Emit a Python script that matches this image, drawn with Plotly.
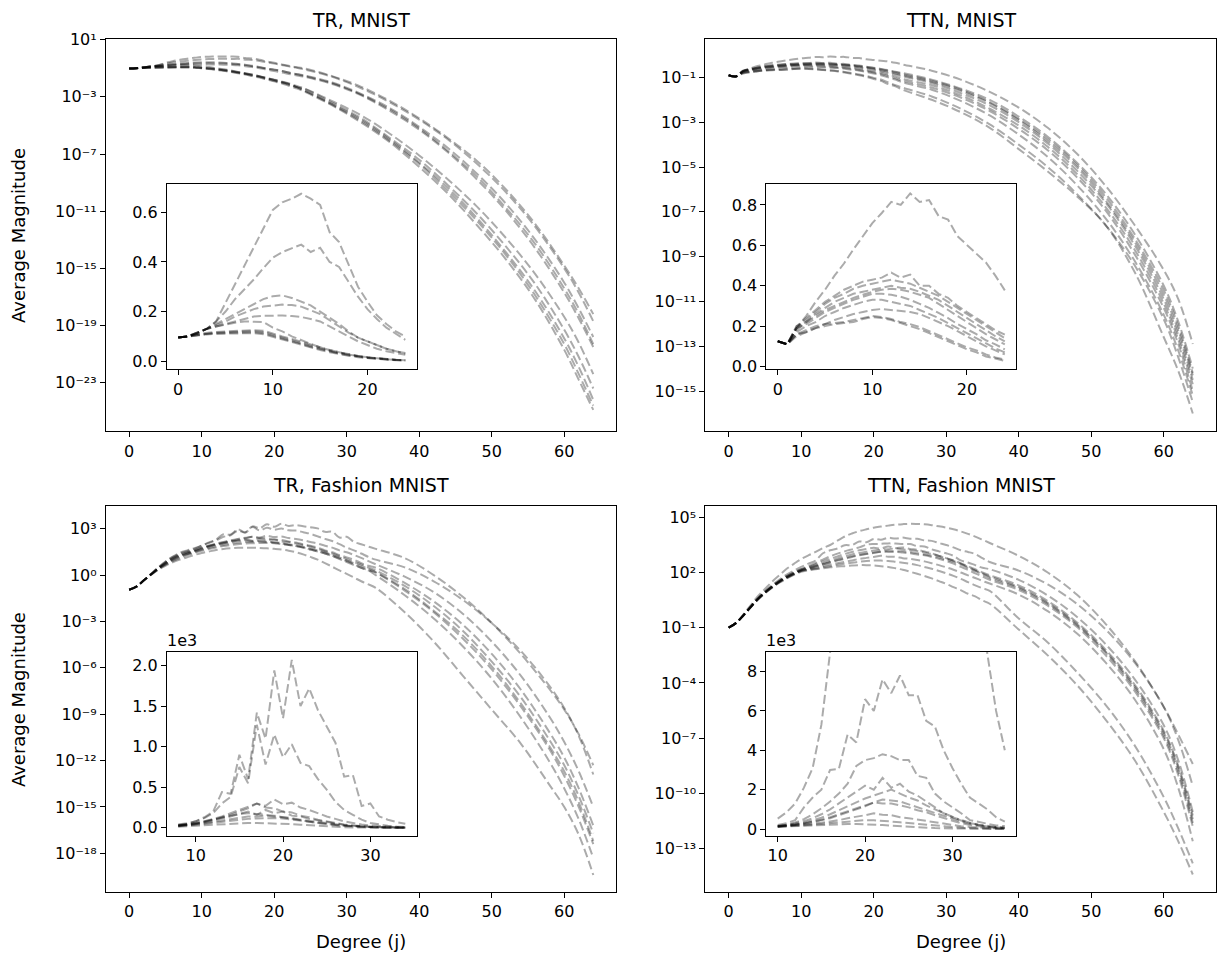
import plotly.graph_objects as go

W, H = 1225, 970          # browser window
OFF = 8                   # default page margin around the figure
FW, FH = W - 2 * OFF, H - 2 * OFF

# ---------------- data ----------------
# MNIST panels: inset holds j = 0..24 (linear values); the main curves continue with log10 tails
MNIST_INSET_J = list(range(0, 25))
MNIST_TAIL_J = [28, 32, 36, 40, 44, 48, 52, 56, 60, 62, 64]

TR_MNIST_INSET = [
    [0.095, 0.100, 0.110, 0.130, 0.160, 0.235, 0.310, 0.385, 0.460, 0.535, 0.610, 0.640, 0.655, 0.675, 0.655, 0.630, 0.520, 0.480, 0.390, 0.300, 0.240, 0.185, 0.150, 0.120, 0.100],
    [0.095, 0.100, 0.110, 0.130, 0.160, 0.200, 0.250, 0.290, 0.330, 0.375, 0.417, 0.440, 0.455, 0.470, 0.440, 0.457, 0.400, 0.380, 0.320, 0.260, 0.210, 0.170, 0.135, 0.110, 0.086],
    [0.095, 0.100, 0.115, 0.130, 0.150, 0.170, 0.190, 0.210, 0.230, 0.250, 0.262, 0.265, 0.255, 0.240, 0.225, 0.200, 0.175, 0.150, 0.120, 0.095, 0.080, 0.066, 0.050, 0.040, 0.033],
    [0.095, 0.100, 0.115, 0.130, 0.145, 0.160, 0.180, 0.195, 0.210, 0.220, 0.225, 0.228, 0.226, 0.220, 0.205, 0.190, 0.165, 0.140, 0.115, 0.095, 0.080, 0.065, 0.050, 0.040, 0.030],
    [0.095, 0.100, 0.115, 0.130, 0.140, 0.150, 0.160, 0.170, 0.180, 0.183, 0.185, 0.184, 0.182, 0.178, 0.170, 0.160, 0.140, 0.120, 0.100, 0.080, 0.065, 0.050, 0.040, 0.032, 0.026],
    [0.095, 0.100, 0.115, 0.130, 0.140, 0.148, 0.155, 0.160, 0.160, 0.158, 0.135, 0.120, 0.100, 0.085, 0.070, 0.055, 0.045, 0.035, 0.027, 0.020, 0.015, 0.011, 0.008, 0.005, 0.004],
    [0.095, 0.100, 0.110, 0.115, 0.118, 0.120, 0.122, 0.124, 0.125, 0.123, 0.110, 0.100, 0.090, 0.078, 0.066, 0.055, 0.045, 0.036, 0.028, 0.021, 0.016, 0.012, 0.009, 0.006, 0.004],
    [0.095, 0.100, 0.108, 0.113, 0.115, 0.117, 0.119, 0.120, 0.121, 0.118, 0.106, 0.096, 0.085, 0.073, 0.062, 0.051, 0.041, 0.033, 0.026, 0.020, 0.015, 0.011, 0.008, 0.005, 0.003],
    [0.095, 0.100, 0.107, 0.110, 0.112, 0.114, 0.115, 0.116, 0.117, 0.113, 0.102, 0.092, 0.081, 0.070, 0.058, 0.048, 0.039, 0.031, 0.024, 0.018, 0.013, 0.010, 0.007, 0.005, 0.003],
    [0.095, 0.100, 0.105, 0.108, 0.110, 0.111, 0.112, 0.113, 0.113, 0.109, 0.098, 0.088, 0.077, 0.066, 0.055, 0.045, 0.036, 0.028, 0.022, 0.016, 0.012, 0.009, 0.006, 0.004, 0.0025],
]
TR_MNIST_TAIL_LOG = [
    [-1.55, -2.3, -3.3, -4.5, -5.9, -7.5, -9.5, -11.9, -14.8, -16.4, -18.2],
    [-1.6, -2.4, -3.4, -4.6, -6.0, -7.7, -9.7, -12.1, -15.0, -16.7, -18.7],
    [-2.0, -2.8, -3.8, -5.1, -6.6, -8.4, -10.5, -13.0, -16.0, -17.8, -19.8],
    [-2.05, -2.85, -3.9, -5.2, -6.8, -8.6, -10.8, -13.3, -16.4, -18.2, -20.3],
    [-2.1, -2.9, -4.0, -5.3, -6.9, -8.8, -11.0, -13.6, -16.7, -18.5, -20.5],
    [-3.3, -4.3, -5.6, -7.1, -8.8, -10.7, -12.9, -15.4, -18.4, -20.2, -22.4],
    [-3.4, -4.5, -5.9, -7.4, -9.2, -11.2, -13.5, -16.1, -19.3, -21.2, -23.4],
    [-3.5, -4.6, -6.0, -7.6, -9.4, -11.5, -13.9, -16.6, -19.9, -21.9, -24.2],
    [-3.55, -4.7, -6.1, -7.7, -9.6, -11.7, -14.1, -16.9, -20.3, -22.4, -24.6],
    [-3.6, -4.8, -6.2, -7.9, -9.8, -12.0, -14.4, -17.2, -20.7, -22.8, -24.9],
]

TTN_MNIST_INSET = [
    [0.125, 0.110, 0.190, 0.250, 0.320, 0.380, 0.450, 0.510, 0.580, 0.645, 0.710, 0.760, 0.815, 0.800, 0.857, 0.815, 0.824, 0.745, 0.727, 0.645, 0.600, 0.555, 0.515, 0.450, 0.377],
    [0.125, 0.110, 0.200, 0.240, 0.280, 0.320, 0.350, 0.380, 0.400, 0.420, 0.430, 0.440, 0.465, 0.440, 0.455, 0.400, 0.400, 0.360, 0.340, 0.300, 0.270, 0.240, 0.210, 0.180, 0.158],
    [0.125, 0.110, 0.190, 0.230, 0.270, 0.310, 0.340, 0.360, 0.385, 0.400, 0.410, 0.420, 0.430, 0.420, 0.410, 0.390, 0.370, 0.350, 0.320, 0.290, 0.260, 0.230, 0.200, 0.170, 0.140],
    [0.125, 0.110, 0.200, 0.220, 0.260, 0.290, 0.320, 0.340, 0.360, 0.370, 0.380, 0.390, 0.400, 0.390, 0.385, 0.370, 0.350, 0.330, 0.300, 0.270, 0.240, 0.210, 0.180, 0.150, 0.125],
    [0.125, 0.110, 0.180, 0.220, 0.250, 0.280, 0.300, 0.320, 0.340, 0.355, 0.370, 0.380, 0.385, 0.380, 0.370, 0.355, 0.340, 0.310, 0.280, 0.250, 0.220, 0.190, 0.160, 0.135, 0.110],
    [0.125, 0.110, 0.190, 0.210, 0.240, 0.270, 0.290, 0.310, 0.330, 0.345, 0.360, 0.360, 0.355, 0.345, 0.330, 0.310, 0.290, 0.265, 0.240, 0.210, 0.185, 0.160, 0.130, 0.110, 0.085],
    [0.125, 0.110, 0.170, 0.200, 0.220, 0.250, 0.270, 0.290, 0.305, 0.320, 0.330, 0.330, 0.320, 0.310, 0.300, 0.280, 0.260, 0.240, 0.215, 0.190, 0.165, 0.140, 0.115, 0.090, 0.070],
    [0.125, 0.110, 0.160, 0.170, 0.190, 0.210, 0.230, 0.245, 0.260, 0.270, 0.280, 0.285, 0.280, 0.275, 0.270, 0.260, 0.240, 0.220, 0.200, 0.175, 0.150, 0.125, 0.100, 0.080, 0.060],
    [0.125, 0.110, 0.160, 0.180, 0.200, 0.210, 0.215, 0.220, 0.230, 0.240, 0.250, 0.245, 0.235, 0.220, 0.210, 0.195, 0.175, 0.155, 0.135, 0.115, 0.095, 0.080, 0.060, 0.045, 0.035],
    [0.125, 0.110, 0.150, 0.170, 0.190, 0.200, 0.210, 0.215, 0.220, 0.235, 0.245, 0.240, 0.230, 0.215, 0.200, 0.185, 0.165, 0.145, 0.125, 0.105, 0.085, 0.070, 0.050, 0.040, 0.028],
]
TTN_MNIST_TAIL_LOG = [
    [-0.7, -1.1, -1.65, -2.35, -3.25, -4.4, -5.85, -7.6, -9.6, -10.9, -12.9],
    [-1.1, -1.5, -2.0, -2.75, -3.65, -4.8, -6.2, -8.0, -10.3, -11.9, -14.0],
    [-1.15, -1.55, -2.1, -2.85, -3.75, -4.9, -6.35, -8.2, -10.5, -12.1, -14.2],
    [-1.2, -1.6, -2.15, -2.9, -3.85, -5.0, -6.5, -8.35, -10.7, -12.3, -14.3],
    [-1.25, -1.7, -2.25, -3.0, -3.95, -5.15, -6.6, -8.5, -10.9, -12.5, -14.5],
    [-1.35, -1.8, -2.4, -3.15, -4.1, -5.3, -6.8, -8.7, -11.1, -12.7, -14.7],
    [-1.45, -1.9, -2.5, -3.3, -4.25, -5.45, -6.95, -8.9, -11.3, -12.9, -15.0],
    [-1.55, -2.05, -2.7, -3.55, -4.55, -5.8, -7.3, -9.2, -11.6, -13.2, -15.2],
    [-1.85, -2.4, -3.1, -4.0, -5.0, -6.2, -7.6, -9.4, -11.8, -13.5, -15.5],
    [-2.0, -2.55, -3.25, -4.2, -5.2, -6.3, -7.6, -9.7, -12.6, -14.1, -16.0],
]

# Fashion MNIST panels: log10 heads, inset values in thousands, log10 tails
TR_FASHION_HEAD_J = list(range(0, 8))
TR_FASHION_HEAD_LOG = [
    [-0.95, -0.75, -0.35, 0.07, 0.50, 0.88, 1.20, 1.45],
    [-0.95, -0.75, -0.35, 0.06, 0.48, 0.85, 1.16, 1.40],
    [-0.95, -0.75, -0.35, 0.05, 0.45, 0.80, 1.10, 1.33],
    [-0.95, -0.75, -0.35, 0.05, 0.44, 0.79, 1.08, 1.30],
    [-0.95, -0.75, -0.35, 0.04, 0.42, 0.75, 1.03, 1.25],
    [-0.95, -0.75, -0.35, 0.04, 0.41, 0.73, 1.00, 1.22],
    [-0.95, -0.75, -0.35, 0.03, 0.39, 0.70, 0.96, 1.17],
    [-0.95, -0.75, -0.35, 0.02, 0.37, 0.66, 0.90, 1.10],
    [-0.95, -0.75, -0.35, 0.01, 0.34, 0.60, 0.82, 1.00],
]
TR_FASHION_INSET_J = list(range(8, 35))
TR_FASHION_INSET_K = [
    [0.04, 0.055, 0.08, 0.13, 0.2, 0.44, 0.42, 0.9, 0.6, 1.42, 1.1, 1.94, 1.35, 2.07, 1.5, 1.72, 1.45, 1.25, 1.05, 0.63, 0.65, 0.27, 0.3, 0.14, 0.1, 0.07, 0.05],
    [0.035, 0.05, 0.08, 0.12, 0.18, 0.3, 0.38, 0.75, 0.55, 1.27, 0.78, 1.15, 0.87, 1.03, 0.8, 0.76, 0.6, 0.47, 0.32, 0.22, 0.16, 0.1, 0.06, 0.04, 0.025, 0.015, 0.01],
    [0.03, 0.04, 0.06, 0.08, 0.1, 0.13, 0.16, 0.2, 0.24, 0.3, 0.27, 0.35, 0.29, 0.31, 0.25, 0.22, 0.18, 0.14, 0.11, 0.08, 0.06, 0.04, 0.03, 0.02, 0.013, 0.008, 0.005],
    [0.029, 0.04, 0.06, 0.08, 0.11, 0.14, 0.18, 0.22, 0.26, 0.3, 0.25, 0.24, 0.2, 0.19, 0.15, 0.13, 0.1, 0.08, 0.06, 0.04, 0.03, 0.02, 0.014, 0.01, 0.006, 0.004, 0.003],
    [0.025, 0.036, 0.052, 0.073, 0.1, 0.12, 0.15, 0.17, 0.2, 0.16, 0.22, 0.18, 0.2, 0.15, 0.14, 0.11, 0.09, 0.07, 0.05, 0.035, 0.025, 0.017, 0.011, 0.007, 0.005, 0.003, 0.002],
    [0.024, 0.034, 0.048, 0.068, 0.09, 0.11, 0.14, 0.17, 0.18, 0.17, 0.16, 0.15, 0.13, 0.11, 0.09, 0.075, 0.06, 0.045, 0.035, 0.025, 0.018, 0.012, 0.008, 0.005, 0.003, 0.002, 0.0015],
    [0.022, 0.031, 0.043, 0.057, 0.073, 0.09, 0.11, 0.125, 0.14, 0.14, 0.15, 0.14, 0.13, 0.12, 0.1, 0.085, 0.068, 0.052, 0.04, 0.03, 0.02, 0.014, 0.009, 0.006, 0.004, 0.0025, 0.0015],
    [0.019, 0.027, 0.037, 0.049, 0.062, 0.075, 0.088, 0.1, 0.11, 0.115, 0.12, 0.12, 0.115, 0.1, 0.09, 0.075, 0.06, 0.045, 0.034, 0.025, 0.017, 0.011, 0.007, 0.0045, 0.003, 0.002, 0.001],
    [0.014, 0.02, 0.027, 0.034, 0.042, 0.049, 0.054, 0.058, 0.06, 0.059, 0.057, 0.054, 0.05, 0.045, 0.038, 0.03, 0.022, 0.015, 0.01, 0.006, 0.0035, 0.002, 0.0012, 0.0007, 0.0004, 0.00025, 0.00015],
]
TR_FASHION_TAIL_J = [38, 42, 46, 50, 54, 58, 60, 62, 64]
TR_FASHION_TAIL_LOG = [
    [1.1, 0.0, -1.4, -3.1, -5.1, -7.4, -8.7, -10.3, -12.3],
    [0.5, -0.4, -1.6, -3.1, -4.9, -7.2, -8.6, -10.4, -12.9],
    [-0.1, -1.1, -2.5, -4.3, -6.5, -9.2, -10.8, -12.7, -15.0],
    [-0.5, -1.7, -3.2, -5.1, -7.4, -10.2, -11.8, -13.8, -16.2],
    [-0.7, -2.0, -3.6, -5.6, -7.9, -10.7, -12.3, -14.3, -16.7],
    [-0.9, -2.3, -3.9, -5.9, -8.3, -11.1, -12.7, -14.7, -17.2],
    [-1.0, -2.4, -4.1, -6.1, -8.5, -11.3, -13.0, -15.0, -17.4],
    [-1.3, -2.8, -4.6, -6.7, -9.2, -12.1, -13.8, -15.8, -18.3],
    [-2.4, -4.3, -6.5, -8.7, -10.9, -13.6, -15.0, -16.8, -19.4],
]

TTN_FASHION_HEAD_J = list(range(0, 10))
TTN_FASHION_HEAD_LOG = [
    [-1.0, -0.75, -0.30, 0.20, 0.70, 1.10, 1.50, 1.85, 2.20, 2.47],
    [-1.0, -0.75, -0.33, 0.14, 0.60, 0.98, 1.32, 1.62, 1.88, 2.10],
    [-1.0, -0.75, -0.34, 0.12, 0.57, 0.94, 1.27, 1.55, 1.80, 2.00],
    [-1.0, -0.75, -0.34, 0.12, 0.56, 0.93, 1.26, 1.54, 1.79, 2.00],
    [-1.0, -0.75, -0.35, 0.11, 0.55, 0.92, 1.24, 1.52, 1.77, 1.97],
    [-1.0, -0.75, -0.35, 0.10, 0.54, 0.90, 1.22, 1.50, 1.74, 1.94],
    [-1.0, -0.75, -0.35, 0.10, 0.54, 0.90, 1.22, 1.50, 1.74, 1.94],
    [-1.0, -0.75, -0.35, 0.10, 0.53, 0.89, 1.20, 1.48, 1.72, 1.91],
    [-1.0, -0.75, -0.35, 0.09, 0.52, 0.88, 1.19, 1.47, 1.70, 1.90],
    [-1.0, -0.75, -0.36, 0.08, 0.50, 0.86, 1.17, 1.44, 1.67, 1.87],
]
TTN_FASHION_INSET_J = list(range(10, 37))
TTN_FASHION_INSET_K = [
    [0.53, 0.85, 1.3, 2.1, 3.1, 5.3, 9.0, 13, 17.5, 22, 27, 31, 35, 39, 42, 44, 43, 41, 37, 32, 27, 22, 17, 12.5, 8.9, 6.0, 4.0],
    [0.2, 0.3, 0.45, 1.1, 1.6, 2.0, 3.0, 3.05, 4.8, 4.4, 6.6, 6.0, 7.6, 6.9, 7.8, 6.8, 6.8, 5.5, 5.2, 4.0, 3.1, 2.3, 1.6, 1.3, 1.0, 0.6, 0.37],
    [0.15, 0.22, 0.33, 0.5, 0.75, 1.05, 1.4, 1.8, 2.3, 3.2, 3.5, 3.6, 3.8, 3.7, 3.5, 3.5, 2.7, 2.6, 1.8, 1.4, 1.1, 0.8, 0.45, 0.35, 0.25, 0.18, 0.15],
    [0.15, 0.2, 0.28, 0.4, 0.55, 0.75, 1.0, 1.3, 1.6, 1.9, 2.2, 2.0, 2.6, 2.1, 2.3, 1.9, 1.7, 1.4, 1.1, 0.8, 0.6, 0.45, 0.32, 0.22, 0.15, 0.1, 0.07],
    [0.14, 0.18, 0.24, 0.32, 0.43, 0.57, 0.75, 0.95, 1.15, 1.35, 1.55, 1.7, 1.85, 2.0, 1.8, 1.6, 1.45, 1.2, 1.0, 0.8, 0.6, 0.43, 0.3, 0.2, 0.13, 0.09, 0.06],
    [0.13, 0.17, 0.22, 0.29, 0.37, 0.47, 0.6, 0.75, 0.9, 1.05, 1.2, 1.35, 1.5, 1.45, 1.4, 1.25, 1.1, 0.95, 0.8, 0.65, 0.5, 0.38, 0.27, 0.18, 0.12, 0.08, 0.05],
    [0.13, 0.16, 0.21, 0.27, 0.35, 0.44, 0.55, 0.7, 0.85, 1.0, 1.15, 1.35, 1.3, 1.3, 1.2, 1.1, 0.95, 0.85, 0.7, 0.55, 0.42, 0.3, 0.2, 0.14, 0.09, 0.06, 0.04],
    [0.12, 0.15, 0.18, 0.22, 0.27, 0.32, 0.38, 0.45, 0.55, 0.62, 0.7, 0.8, 0.72, 0.7, 0.6, 0.55, 0.48, 0.4, 0.32, 0.25, 0.19, 0.14, 0.1, 0.07, 0.05, 0.035, 0.025],
    [0.12, 0.14, 0.16, 0.19, 0.22, 0.26, 0.3, 0.34, 0.38, 0.42, 0.45, 0.44, 0.42, 0.38, 0.34, 0.3, 0.25, 0.2, 0.16, 0.12, 0.09, 0.065, 0.045, 0.03, 0.02, 0.014, 0.01],
    [0.11, 0.13, 0.15, 0.17, 0.19, 0.21, 0.22, 0.24, 0.25, 0.25, 0.24, 0.22, 0.2, 0.17, 0.14, 0.11, 0.085, 0.065, 0.048, 0.034, 0.024, 0.016, 0.011, 0.007, 0.005, 0.003, 0.002],
]
TTN_FASHION_TAIL_J = [40, 44, 48, 52, 56, 60, 62, 64]
TTN_FASHION_TAIL_LOG = [
    [2.9, 2.0, 0.8, -0.8, -2.8, -5.3, -6.8, -8.4],
    [2.1, 1.35, 0.3, -1.1, -2.9, -5.3, -7.1, -9.6],
    [1.6, 0.75, -0.4, -1.9, -3.8, -6.3, -8.2, -11.0],
    [1.3, 0.45, -0.7, -2.2, -4.1, -6.6, -8.5, -11.2],
    [1.2, 0.35, -0.8, -2.3, -4.2, -6.7, -8.6, -11.4],
    [1.15, 0.3, -0.85, -2.35, -4.3, -6.85, -8.8, -11.6],
    [1.05, 0.2, -0.95, -2.5, -4.45, -7.0, -9.0, -11.8],
    [0.8, -0.1, -1.3, -2.9, -4.9, -7.6, -9.7, -12.6],
    [-0.5, -1.8, -3.4, -5.2, -7.4, -10.2, -11.9, -13.8],
    [-1.1, -2.5, -4.1, -6.0, -8.2, -11.0, -12.6, -14.4],
]

TITLES = ["TR, MNIST", "TTN, MNIST", "TR, Fashion MNIST", "TTN, Fashion MNIST"]
MAIN_XTICKS = [0, 10, 20, 30, 40, 50, 60]

# ---------------- styling / geometry ----------------
FONT = "DejaVu Sans"
LINE = dict(color="rgba(0,0,0,0.33)", width=2, dash="9px,3.8px")
SUPER = str.maketrans("0123456789-", "\u2070\u00b9\u00b2\u00b3\u2074\u2075\u2076\u2077\u2078\u2079\u207b")


def xd(l, r):
    return [(l - OFF) / FW, (r - OFF) / FW]


def yd(t, b):
    return [1 - (b - OFF) / FH, 1 - (t - OFF) / FH]


def px_x(x):
    return (x - OFF) / FW


def px_y(y):
    return 1 - (y - OFF) / FH


def sup(e):
    return "10" + str(e).translate(SUPER)


panels = [
    dict(main=(106, 617, 31, 430), inset=(167, 417, 179, 367), title_y=12,
         ylog=[-26.4, 1.07], yexp=[1, -3, -7, -11, -15, -19, -23],
         ixr=[-1.2, 25.2], ixt=[0, 10, 20],
         iyr=[-0.033, 0.713], iyt=[0, 0.2, 0.4, 0.6], iytt=["0.0", "0.2", "0.4", "0.6"],
         scale=1.0, offset=False, xlabel=False, ylabel=True),
    dict(main=(706, 1217, 31, 430), inset=(767, 1017, 179, 367), title_y=12,
         ylog=[-16.8, 0.73], yexp=[-1, -3, -5, -7, -9, -11, -13, -15],
         ixr=[-1.2, 25.2], ixt=[0, 10, 20],
         iyr=[-0.014, 0.902], iyt=[0, 0.2, 0.4, 0.6, 0.8], iytt=["0.0", "0.2", "0.4", "0.6", "0.8"],
         scale=1.0, offset=False, xlabel=False, ylabel=False),
    dict(main=(106, 617, 506, 898), inset=(167, 417, 654, 841), title_y=484,
         ylog=[-20.5, 4.46], yexp=[3, 0, -3, -6, -9, -12, -15, -18],
         ixr=[6.7, 35.3], ixt=[10, 20, 30],
         iyr=[-100, 2170], iyt=[0, 500, 1000, 1500, 2000], iytt=["0.0", "0.5", "1.0", "1.5", "2.0"],
         scale=1000.0, offset=True, xlabel=True, ylabel=True),
    dict(main=(706, 1217, 506, 898), inset=(767, 1017, 654, 841), title_y=484,
         ylog=[-15.35, 5.6], yexp=[5, 2, -1, -4, -7, -10, -13],
         ixr=[8.7, 37.3], ixt=[10, 20, 30],
         iyr=[-350, 9000], iyt=[0, 2000, 4000, 6000, 8000], iytt=["0", "2", "4", "6", "8"],
         scale=1000.0, offset=True, xlabel=True, ylabel=False),
]

series = [
    ([], None, MNIST_INSET_J, TR_MNIST_INSET, MNIST_TAIL_J, TR_MNIST_TAIL_LOG),
    ([], None, MNIST_INSET_J, TTN_MNIST_INSET, MNIST_TAIL_J, TTN_MNIST_TAIL_LOG),
    (TR_FASHION_HEAD_J, TR_FASHION_HEAD_LOG, TR_FASHION_INSET_J, TR_FASHION_INSET_K, TR_FASHION_TAIL_J, TR_FASHION_TAIL_LOG),
    (TTN_FASHION_HEAD_J, TTN_FASHION_HEAD_LOG, TTN_FASHION_INSET_J, TTN_FASHION_INSET_K, TTN_FASHION_TAIL_J, TTN_FASHION_TAIL_LOG),
]

axis_common = dict(showline=True, mirror=True, linecolor="black", linewidth=1.1,
                   ticks="outside", ticklen=5, tickwidth=1.1, tickcolor="black",
                   showgrid=False, zeroline=False, fixedrange=True, tickmode="array",
                   tickfont=dict(family=FONT, size=16, color="black"))

fig = go.Figure()
layout = dict(width=FW, height=FH, autosize=False, margin=dict(l=0, r=0, t=0, b=0, pad=0),
              paper_bgcolor="white", plot_bgcolor="white", showlegend=False,
              font=dict(family=FONT, size=16, color="black"))
annotations = []
shapes = []

for i, (p, s) in enumerate(zip(panels, series)):
    head_j, head_log, inset_j, inset_vals, tail_j, tail_log = s
    mi = i + 1
    ii = i + 5
    mx = "x" if mi == 1 else f"x{mi}"
    my = "y" if mi == 1 else f"y{mi}"
    ix, iy = f"x{ii}", f"y{ii}"
    l, r, t, b = p["main"]
    layout["xaxis" if mi == 1 else f"xaxis{mi}"] = dict(
        domain=xd(l, r), anchor=my, range=[-3.2, 67.2],
        tickvals=MAIN_XTICKS, ticktext=[str(v) for v in MAIN_XTICKS], **axis_common)
    layout["yaxis" if mi == 1 else f"yaxis{mi}"] = dict(
        domain=yd(t, b), anchor=mx, type="log", range=p["ylog"],
        tickvals=[10.0 ** e for e in p["yexp"]], ticktext=[sup(e) for e in p["yexp"]], **axis_common)
    il, ir, it, ib = p["inset"]
    layout[f"xaxis{ii}"] = dict(domain=xd(il, ir), anchor=iy, range=p["ixr"],
                                tickvals=p["ixt"], ticktext=[str(v) for v in p["ixt"]], **axis_common)
    layout[f"yaxis{ii}"] = dict(domain=yd(it, ib), anchor=ix, range=p["iyr"],
                                tickvals=p["iyt"], ticktext=p["iytt"], **axis_common)
    # white background of the inset (drawn in the inset subplot, above the main curves)
    shapes.append(dict(type="rect", xref=ix, yref=iy, x0=p["ixr"][0], x1=p["ixr"][1],
                       y0=p["iyr"][0], y1=p["iyr"][1], fillcolor="white",
                       line=dict(width=0), layer="below"))

    for k, vals in enumerate(inset_vals):
        hl = head_log[k] if head_log else []
        xs = list(head_j) + list(inset_j) + list(tail_j)
        ys = ([10.0 ** v for v in hl] + [v * p["scale"] for v in vals]
              + [10.0 ** v for v in tail_log[k]])
        fig.add_trace(go.Scatter(x=xs, y=ys, mode="lines", xaxis=mx, yaxis=my,
                                 line=dict(shape="spline", smoothing=1.0, **LINE),
                                 hoverinfo="skip"))

    # titles and labels
    cx = px_x((l + r) / 2)
    annotations.append(dict(text=TITLES[i], xref="paper", yref="paper", x=cx, y=px_y(p["title_y"]),
                            xanchor="center", yanchor="middle", showarrow=False,
                            font=dict(family=FONT, size=19, color="black")))
    if p["xlabel"]:
        annotations.append(dict(text="Degree (j)", xref="paper", yref="paper", x=cx, y=px_y(948),
                                xanchor="center", yanchor="middle", showarrow=False,
                                font=dict(family=FONT, size=18, color="black")))
    if p["ylabel"]:
        annotations.append(dict(text="Average Magnitude", xref="paper", yref="paper", x=px_x(18),
                                y=px_y((t + b) / 2), xanchor="center", yanchor="middle",
                                textangle=-90, showarrow=False,
                                font=dict(family=FONT, size=18, color="black")))
    if p["offset"]:
        annotations.append(dict(text="1e3", xref="paper", yref="paper", x=px_x(il - 2), y=px_y(it),
                                xanchor="left", yanchor="bottom", showarrow=False,
                                font=dict(family=FONT, size=16, color="black")))

# inset traces (drawn in later subplots, i.e. on top of the main curves)
for i, (p, s) in enumerate(zip(panels, series)):
    head_j, head_log, inset_j, inset_vals, tail_j, tail_log = s
    ii = i + 5
    for vals in inset_vals:
        fig.add_trace(go.Scatter(x=list(inset_j), y=[v * p["scale"] for v in vals], mode="lines",
                                 xaxis=f"x{ii}", yaxis=f"y{ii}", line=dict(shape="linear", **LINE),
                                 hoverinfo="skip"))

layout["annotations"] = annotations
layout["shapes"] = shapes
fig.update_layout(**layout)
fig.write_html("out.html")
